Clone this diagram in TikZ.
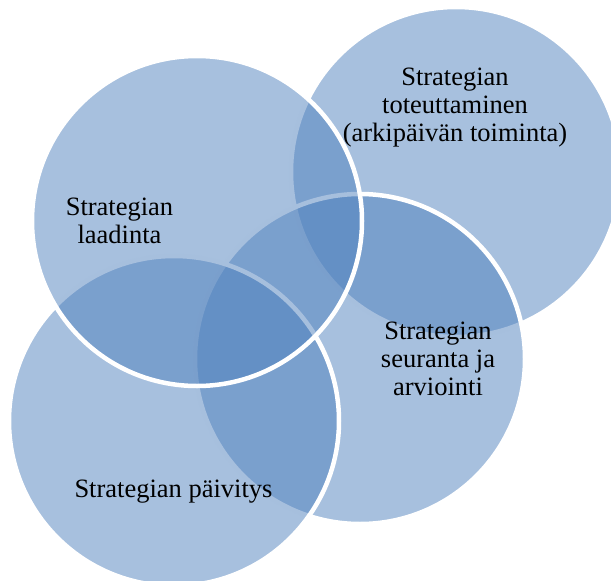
\documentclass[tikz,border=0pt]{standalone}
\usepackage{fontspec}
\setmainfont{Liberation Serif}
\usetikzlibrary{positioning}
\definecolor{VennBlue}{RGB}{79,129,189}

\begin{document}
\begin{tikzpicture}[x=1pt,y=-1pt,
  venn/.style={circle,draw=white,line width=4.5pt,fill=VennBlue,fill opacity=0.5,draw opacity=1,minimum size=330pt,inner sep=0pt},
  lbl/.style={align=center,font=\fontsize{26.5}{27.7}\selectfont,inner sep=0pt}]
\useasboundingbox (0,0) rectangle (611,581);
\clip (0,0) rectangle (611,581);
% circles, back to front
\node[venn] (c2) at (456,172) {};
\node[venn] (c3) at (360,359) {};
\node[venn] (c4) at (174,421) {};
\node[venn] (c1) at (197,221) {};
% texts
\node[lbl,anchor=north] (t1) at (119.5,198) {Strategian\\laadinta};
\node[lbl,anchor=north] (t2) at (455,68) {Strategian\\toteuttaminen\\(arkipäivän toiminta)};
\node[lbl,anchor=north] (t3) at (438,322) {Strategian\\seuranta ja\\arviointi};
\node[lbl,anchor=base] (t4) at (173.5,497) {Strategian päivitys};
\end{tikzpicture}
\end{document}
